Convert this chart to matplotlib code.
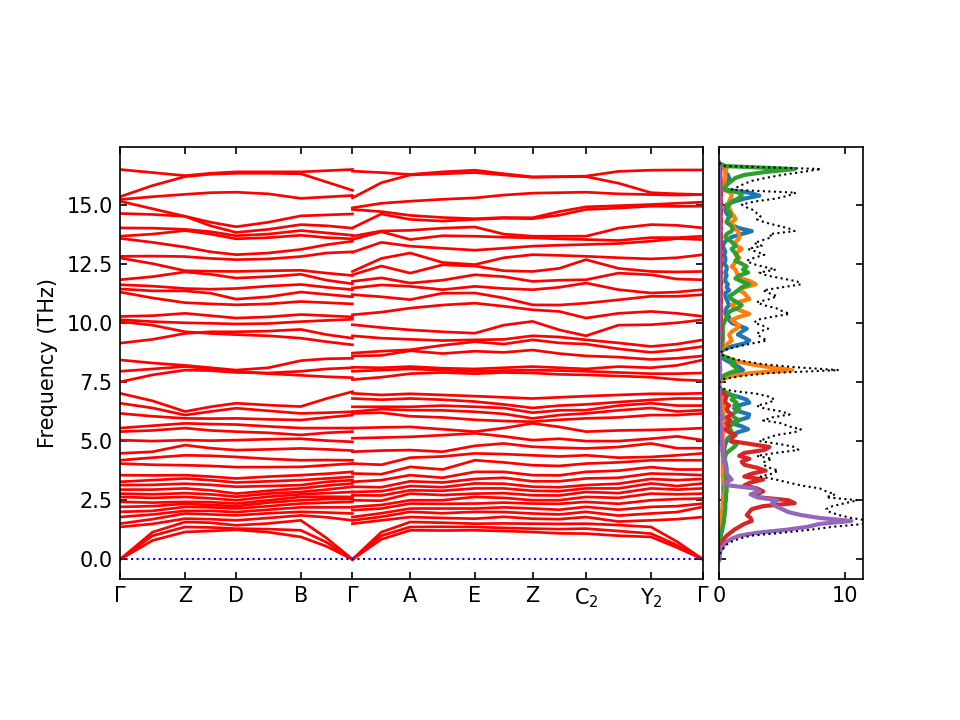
import numpy as np
import matplotlib
matplotlib.use("Agg")
import matplotlib.pyplot as plt

# === HIGH-SYMMETRY PATH ===
hs_labels = ["Γ", "Z", "D", "B", "Γ", "A", "E", "Z", "C$_2$", "Y$_2$", "Γ"]
hs_pos = [0.0, 0.650, 1.160, 1.807, 2.323, 2.900, 3.547, 4.123, 4.657, 5.307, 5.827]

# === BANDS, segment Γ-Z-D-B-Γ (values at each point and half-way point) ===
# upper branches, one row per band
path1_upper = [
    [16.48, 16.35, 16.22, 16.32, 16.38, 16.38, 16.38, 16.43, 16.48],
    [15.33, 15.80, 16.18, 16.28, 16.32, 16.32, 16.30, 15.95, 15.60],
    [15.21, 15.33, 15.43, 15.50, 15.52, 15.45, 15.26, 15.32, 15.38],
    [15.14, 14.82, 14.50, 14.25, 14.06, 14.25, 14.52, 14.56, 14.60],
    [14.62, 14.58, 14.50, 14.10, 13.82, 13.95, 14.15, 14.10, 14.00],
    [14.01, 14.00, 13.95, 13.85, 13.68, 13.75, 13.90, 13.80, 13.70],
    [13.66, 13.75, 13.90, 13.75, 13.55, 13.60, 13.70, 13.60, 13.55],
    [13.57, 13.40, 13.20, 13.00, 12.88, 12.95, 13.10, 13.30, 13.45],
    [12.81, 12.82, 12.80, 12.72, 12.67, 12.70, 12.80, 12.95, 13.00],
    [12.74, 12.50, 12.20, 12.18, 12.17, 12.20, 12.22, 12.10, 12.00],
    [11.82, 11.95, 12.15, 12.05, 11.89, 11.95, 12.05, 11.80, 11.65],
    [11.61, 11.55, 11.45, 11.42, 11.45, 11.55, 11.62, 11.50, 11.40],
    [11.43, 11.35, 11.35, 11.25, 11.00, 11.10, 11.30, 11.20, 11.10],
    [11.30, 11.05, 10.85, 10.80, 10.76, 10.80, 10.90, 10.85, 10.80],
    [10.27, 10.30, 10.40, 10.30, 10.20, 10.25, 10.35, 10.30, 10.25],
    [10.13, 10.05, 10.00, 9.98, 9.95, 9.97, 10.05, 10.10, 10.15],
    [9.14, 9.30, 9.55, 9.62, 9.62, 9.65, 9.72, 9.50, 9.35],
    [10.05, 9.90, 9.62, 9.55, 9.50, 9.45, 9.35, 9.20, 9.07],
    [8.43, 8.30, 8.20, 8.10, 8.00, 8.10, 8.40, 8.48, 8.50],
    [7.95, 8.05, 8.15, 8.05, 7.95, 7.85, 7.78, 7.72, 7.68],
    [7.50, 7.80, 8.00, 7.98, 7.90, 7.88, 7.95, 8.05, 8.10],
]
# lower optical branches, one list per k-point
path1_lower = [
    [1.37, 1.51, 1.79, 2.01, 2.22, 2.43, 2.64, 2.78, 2.95, 3.14, 3.28, 3.56, 4.05, 4.19, 4.48, 5.04, 5.40, 5.55, 6.17, 6.60, 7.02],
    [1.50, 1.70, 1.90, 2.05, 2.25, 2.40, 2.60, 2.75, 2.95, 3.15, 3.35, 3.55, 4.00, 4.30, 4.55, 5.00, 5.45, 5.65, 6.05, 6.40, 6.70],
    [1.72, 1.94, 2.05, 2.22, 2.35, 2.43, 2.64, 2.80, 3.00, 3.20, 3.42, 3.56, 3.98, 4.40, 4.83, 5.04, 5.55, 5.75, 5.96, 6.10, 6.25],
    [1.70, 1.90, 2.05, 2.20, 2.30, 2.42, 2.58, 2.75, 2.92, 3.15, 3.35, 3.50, 3.95, 4.38, 4.70, 5.02, 5.45, 5.72, 5.95, 6.25, 6.45],
    [1.65, 1.86, 2.00, 2.15, 2.25, 2.36, 2.50, 2.65, 2.78, 3.07, 3.25, 3.42, 3.90, 4.33, 4.62, 5.04, 5.40, 5.70, 5.96, 6.39, 6.60],
    [1.75, 1.95, 2.10, 2.25, 2.40, 2.50, 2.65, 2.78, 2.90, 3.10, 3.30, 3.50, 3.90, 4.25, 4.65, 5.08, 5.35, 5.62, 5.92, 6.28, 6.52],
    [1.86, 2.01, 2.20, 2.36, 2.50, 2.64, 2.75, 2.85, 3.00, 3.14, 3.35, 3.56, 3.91, 4.19, 4.69, 5.10, 5.26, 5.55, 5.89, 6.17, 6.46],
    [1.78, 1.98, 2.20, 2.40, 2.55, 2.65, 2.80, 2.95, 3.12, 3.28, 3.42, 3.62, 3.98, 4.20, 4.65, 5.02, 5.35, 5.55, 6.00, 6.20, 6.80],
    [1.65, 1.94, 2.20, 2.43, 2.55, 2.64, 2.85, 3.07, 3.21, 3.35, 3.49, 3.70, 4.05, 4.19, 4.60, 4.97, 5.40, 5.55, 6.10, 6.24, 7.09],
]
path1_acoustic = [
    [0.0, 0.80, 1.16, 1.20, 1.25, 1.15, 0.95, 0.55, 0.0],
    [0.0, 1.00, 1.37, 1.35, 1.30, 1.28, 1.23, 0.72, 0.0],
    [0.0, 1.15, 1.58, 1.55, 1.44, 1.52, 1.65, 0.90, 0.0],
]

# === BANDS, segment Γ-A-E-Z-C2-Y2-Γ ===
path2_upper = [
    [16.41, 15.28, 14.86, 14.79, 14.01, 13.66, 13.52, 12.98, 12.17, 12.03, 11.75, 11.47, 11.19, 10.34, 9.92, 9.45, 8.72, 8.60, 8.12, 7.95, 7.60],
    [16.35, 15.92, 15.05, 14.70, 14.60, 13.88, 13.85, 13.40, 12.72, 12.40, 11.90, 11.60, 11.10, 10.45, 9.80, 9.35, 8.80, 8.62, 8.10, 8.00, 7.70],
    [16.27, 16.25, 15.14, 14.54, 14.37, 13.91, 13.52, 13.24, 12.95, 12.10, 11.68, 11.54, 10.98, 10.62, 9.70, 9.30, 8.86, 8.82, 8.15, 8.05, 7.85],
    [16.38, 16.30, 15.22, 14.45, 14.30, 14.00, 13.68, 13.15, 12.55, 12.45, 11.80, 11.40, 11.25, 10.75, 9.62, 9.25, 9.05, 8.70, 8.08, 8.00, 7.90],
    [16.45, 16.35, 15.28, 14.40, 14.37, 14.05, 13.66, 13.07, 12.46, 12.40, 12.03, 11.54, 11.26, 10.83, 9.56, 9.28, 9.20, 8.80, 8.05, 7.95, 7.85],
    [16.30, 16.25, 15.40, 14.45, 14.42, 13.75, 13.62, 13.15, 12.75, 12.20, 11.95, 11.45, 11.05, 10.70, 9.90, 9.30, 9.10, 8.75, 8.10, 7.98, 7.90],
    [16.17, 16.15, 15.48, 14.44, 14.40, 13.66, 13.59, 13.24, 12.88, 12.17, 11.75, 11.40, 10.76, 10.55, 10.06, 9.45, 9.28, 8.85, 8.15, 8.00, 7.88],
    [16.18, 16.17, 15.50, 14.70, 14.55, 13.66, 13.55, 13.28, 12.85, 12.30, 11.80, 11.50, 10.75, 10.48, 9.70, 9.40, 9.15, 8.70, 8.10, 7.98, 7.82],
    [16.20, 16.18, 15.52, 14.90, 14.79, 13.66, 13.52, 13.31, 12.81, 12.67, 11.82, 11.68, 10.83, 10.20, 9.45, 9.28, 9.10, 8.60, 8.05, 7.95, 7.80],
    [16.40, 15.90, 15.45, 14.95, 14.85, 14.00, 13.48, 13.35, 12.75, 12.30, 12.10, 11.40, 10.97, 10.40, 9.90, 9.15, 8.90, 8.55, 8.15, 7.90, 7.75],
    [16.45, 15.50, 15.42, 15.00, 14.93, 14.15, 13.60, 13.45, 12.70, 12.17, 12.03, 11.26, 11.12, 10.48, 9.92, 9.00, 8.75, 8.45, 8.10, 7.85, 7.70],
    [16.46, 15.45, 15.40, 15.05, 14.92, 14.12, 13.56, 13.60, 12.75, 12.15, 11.85, 11.30, 11.12, 10.40, 10.00, 9.10, 8.85, 8.50, 8.20, 7.85, 7.60],
    [16.46, 15.42, 15.42, 15.10, 14.93, 14.01, 13.66, 13.52, 12.88, 12.17, 11.82, 11.40, 11.19, 10.27, 10.13, 9.28, 9.00, 8.60, 8.43, 7.88, 7.55],
]
path2_lower = [
    [1.51, 1.65, 1.79, 2.08, 2.22, 2.50, 2.71, 2.85, 3.07, 3.28, 3.63, 4.05, 4.55, 5.12, 5.55, 6.17, 6.24, 6.45, 6.80, 7.02],
    [1.65, 1.80, 1.95, 2.15, 2.30, 2.48, 2.70, 2.88, 3.05, 3.35, 3.60, 4.00, 4.60, 5.15, 5.58, 6.20, 6.35, 6.45, 6.75, 6.95],
    [1.79, 2.01, 2.15, 2.36, 2.50, 2.78, 2.92, 3.10, 3.30, 3.56, 3.91, 4.30, 4.62, 5.18, 5.60, 6.05, 6.31, 6.45, 6.80, 7.00],
    [1.75, 1.95, 2.15, 2.35, 2.50, 2.72, 2.90, 3.05, 3.25, 3.45, 3.80, 4.35, 4.55, 5.25, 5.50, 6.00, 6.30, 6.50, 6.75, 6.95],
    [1.72, 2.01, 2.15, 2.36, 2.64, 2.78, 3.00, 3.21, 3.40, 3.70, 4.19, 4.48, 4.80, 5.33, 5.40, 5.90, 6.24, 6.45, 6.67, 6.90],
    [1.80, 2.00, 2.20, 2.40, 2.60, 2.80, 3.00, 3.20, 3.45, 3.70, 4.10, 4.45, 4.90, 5.20, 5.55, 5.85, 6.15, 6.40, 6.55, 6.85],
    [1.72, 1.94, 2.15, 2.36, 2.50, 2.71, 2.90, 3.07, 3.30, 3.56, 3.98, 4.40, 4.76, 5.04, 5.75, 5.82, 5.96, 6.20, 6.40, 6.80],
    [1.70, 1.90, 2.10, 2.35, 2.50, 2.70, 2.88, 3.05, 3.30, 3.55, 3.95, 4.35, 4.72, 5.10, 5.60, 5.90, 6.10, 6.30, 6.50, 6.85],
    [1.79, 2.01, 2.22, 2.43, 2.64, 2.85, 3.00, 3.14, 3.42, 3.70, 4.05, 4.40, 4.69, 5.00, 5.40, 5.96, 6.17, 6.31, 6.55, 6.90],
    [1.60, 1.85, 2.10, 2.35, 2.60, 2.80, 3.00, 3.20, 3.45, 3.75, 4.10, 4.30, 4.75, 5.00, 5.45, 6.00, 6.30, 6.50, 6.65, 6.95],
    [1.65, 1.94, 2.22, 2.50, 2.78, 3.00, 3.21, 3.40, 3.63, 3.90, 4.19, 4.33, 4.90, 5.10, 5.47, 6.10, 6.40, 6.60, 6.74, 7.00],
    [1.70, 2.00, 2.25, 2.55, 2.75, 2.95, 3.10, 3.35, 3.60, 3.80, 4.19, 4.40, 4.70, 5.20, 5.50, 6.10, 6.25, 6.50, 6.80, 7.00],
    [1.79, 2.22, 2.36, 2.57, 2.78, 3.00, 3.21, 3.40, 3.56, 3.80, 4.19, 4.48, 4.70, 5.04, 5.55, 6.17, 6.31, 6.50, 6.80, 7.02],
]
path2_acoustic = [
    [0.0, 0.85, 1.23, 1.22, 1.23, 1.20, 1.16, 1.10, 1.09, 1.00, 0.95, 0.50, 0.0],
    [0.0, 1.00, 1.37, 1.38, 1.37, 1.33, 1.30, 1.28, 1.30, 1.20, 1.09, 0.60, 0.0],
    [0.0, 1.15, 1.58, 1.55, 1.51, 1.52, 1.51, 1.50, 1.51, 1.45, 1.37, 0.75, 0.0],
]

# === DOS (states/THz), sampled every 0.125 THz from 0, one row per THz ===
dos_total = [
    0.00, 0.03, 0.10, 0.20, 0.40, 0.60, 1.00, 1.60,
    2.50, 5.00, 7.20, 9.00, 11.50, 12.00, 10.50, 9.50,
    8.80, 8.50, 9.00, 10.00, 11.00, 8.50, 9.20, 8.50,
    8.00, 6.50, 5.50, 4.50, 3.30, 4.20, 4.70, 4.00,
    3.50, 3.60, 4.20, 3.00, 4.50, 6.30, 6.00, 4.80,
    3.20, 3.80, 4.50, 6.00, 6.50, 5.50, 5.00, 3.50,
    4.20, 5.60, 5.00, 3.60, 3.00, 4.00, 4.40, 4.00,
    3.00, 1.00, 0.05, 0.00, 0.05, 0.40, 1.80, 4.00,
    9.50, 6.00, 3.50, 2.00, 1.00, 0.30, 0.10, 0.60,
    1.50, 2.60, 3.80, 3.40, 3.00, 3.20, 3.90, 3.50,
    2.80, 3.00, 4.20, 5.60, 5.00, 4.50, 3.50, 3.00,
    4.00, 4.60, 4.00, 3.50, 5.00, 6.50, 6.20, 5.00,
    3.80, 3.20, 4.50, 3.50, 2.60, 2.20, 2.80, 3.60,
    3.00, 2.30, 3.40, 2.80, 3.50, 4.20, 4.00, 6.00,
    5.50, 4.50, 3.60, 3.00, 3.30, 3.00, 2.80, 2.20,
    1.80, 2.80, 4.50, 5.50, 6.10, 1.00, 1.50, 2.00,
    2.60, 3.70, 5.00, 6.60, 8.10, 0.50, 0.00,
]
dos_blue = [
    0.00, 0.00, 0.01, 0.01, 0.02, 0.03, 0.05, 0.07,
    0.10, 0.12, 0.15, 0.18, 0.20, 0.22, 0.22, 0.25,
    0.25, 0.28, 0.30, 0.30, 0.32, 0.32, 0.35, 0.35,
    0.35, 0.35, 0.35, 0.35, 0.35, 0.35, 0.35, 0.35,
    0.35, 0.35, 0.35, 0.35, 0.40, 0.40, 0.45, 0.50,
    0.60, 0.70, 1.00, 1.50, 2.30, 1.80, 1.00, 1.50,
    2.30, 2.40, 1.60, 1.20, 1.50, 2.40, 2.20, 1.50,
    0.50, 0.30, 0.02, 0.00, 0.01, 0.10, 0.40, 1.00,
    1.90, 1.60, 1.20, 0.70, 0.30, 0.10, 0.05, 0.40,
    1.00, 2.00, 2.40, 2.00, 1.50, 1.80, 2.20, 1.60,
    1.00, 0.80, 0.80, 0.50, 0.50, 0.60, 0.80, 0.70,
    0.60, 0.50, 0.50, 0.80, 0.60, 0.70, 0.50, 0.50,
    0.60, 0.50, 0.60, 0.60, 0.40, 0.50, 0.50, 0.40,
    0.50, 0.40, 0.30, 0.40, 0.60, 1.00, 1.80, 2.60,
    1.60, 1.00, 0.60, 0.70, 0.80, 0.60, 0.50, 0.50,
    0.60, 1.20, 2.00, 3.20, 2.40, 0.50, 0.50, 0.60,
    0.70, 0.80, 0.70, 0.50, 0.50, 0.05, 0.00,
]
dos_orange = [
    0.00, 0.00, 0.01, 0.01, 0.02, 0.03, 0.04, 0.05,
    0.06, 0.08, 0.10, 0.12, 0.15, 0.18, 0.20, 0.22,
    0.25, 0.28, 0.30, 0.30, 0.32, 0.35, 0.40, 0.45,
    0.50, 0.45, 0.40, 0.35, 0.30, 0.30, 0.30, 0.30,
    0.30, 0.30, 0.30, 0.30, 0.30, 0.30, 0.30, 0.30,
    0.30, 0.30, 0.30, 0.35, 0.35, 0.35, 0.40, 0.50,
    0.40, 0.35, 0.35, 0.35, 0.35, 0.30, 0.30, 0.25,
    0.20, 0.10, 0.02, 0.00, 0.02, 0.30, 1.00, 2.50,
    5.80, 4.00, 2.50, 1.40, 0.80, 0.20, 0.05, 0.10,
    0.40, 0.70, 1.00, 0.90, 0.80, 1.00, 1.40, 1.60,
    1.30, 1.00, 1.60, 2.40, 1.80, 1.20, 1.00, 1.50,
    2.40, 2.20, 2.00, 1.60, 2.00, 2.90, 2.50, 1.80,
    1.50, 1.40, 1.30, 1.00, 1.20, 1.40, 1.60, 1.30,
    1.50, 1.80, 1.40, 1.20, 1.50, 1.60, 1.60, 1.50,
    1.20, 1.10, 1.00, 1.30, 1.20, 1.00, 0.90, 0.80,
    0.70, 0.80, 0.90, 1.00, 0.90, 0.40, 0.40, 0.40,
    0.45, 0.50, 0.50, 0.50, 0.60, 0.05, 0.00,
]
dos_green = [
    0.00, 0.00, 0.01, 0.02, 0.03, 0.05, 0.08, 0.10,
    0.15, 0.20, 0.25, 0.30, 0.35, 0.40, 0.40, 0.45,
    0.45, 0.50, 0.50, 0.50, 0.55, 0.55, 0.55, 0.60,
    0.60, 0.60, 0.60, 0.60, 0.55, 0.55, 0.60, 0.60,
    0.55, 0.50, 0.45, 0.50, 0.60, 0.90, 1.20, 1.40,
    0.90, 0.80, 1.00, 1.00, 0.90, 0.80, 1.20, 1.60,
    1.20, 1.00, 1.40, 1.60, 1.20, 1.40, 1.00, 1.30,
    0.80, 0.30, 0.02, 0.00, 0.01, 0.10, 0.30, 0.80,
    1.50, 1.30, 1.00, 1.20, 0.70, 0.20, 0.05, 0.10,
    0.20, 0.25, 0.30, 0.30, 0.30, 0.30, 0.30, 0.30,
    0.40, 0.50, 0.60, 0.70, 0.90, 1.50, 1.80, 1.40,
    1.00, 0.80, 1.20, 1.50, 1.80, 2.40, 1.80, 1.30,
    1.60, 2.30, 1.90, 2.20, 1.80, 1.30, 1.50, 1.40,
    1.20, 1.00, 1.30, 1.10, 0.80, 0.50, 0.60, 1.00,
    1.10, 0.90, 0.60, 0.70, 0.90, 0.90, 0.70, 0.60,
    0.80, 1.00, 1.50, 1.80, 1.60, 0.40, 0.50, 0.70,
    1.00, 1.30, 2.00, 3.70, 6.00, 0.50, 0.00,
]
dos_red = [
    0.00, 0.01, 0.03, 0.05, 0.10, 0.20, 0.30, 0.40,
    0.60, 0.90, 1.20, 1.60, 2.00, 2.60, 2.50, 2.20,
    2.40, 2.60, 3.50, 6.00, 5.50, 3.20, 3.00, 3.50,
    3.00, 2.00, 2.50, 3.50, 2.00, 2.60, 3.70, 3.00,
    2.00, 1.80, 2.40, 1.60, 2.00, 3.60, 4.00, 2.50,
    1.00, 1.00, 1.30, 0.80, 0.50, 0.80, 0.60, 0.90,
    0.60, 1.00, 0.70, 0.60, 0.80, 0.50, 0.50, 0.60,
    0.40, 0.15, 0.01, 0.00, 0.00, 0.01, 0.02, 0.03,
    0.05, 0.05, 0.04, 0.03, 0.02, 0.01, 0.00, 0.01,
    0.05, 0.08, 0.12, 0.12, 0.10, 0.12, 0.15, 0.12,
    0.12, 0.15, 0.15, 0.12, 0.15, 0.15, 0.12, 0.15,
    0.15, 0.12, 0.15, 0.15, 0.12, 0.15, 0.15, 0.12,
    0.15, 0.15, 0.12, 0.15, 0.15, 0.12, 0.15, 0.15,
    0.12, 0.15, 0.15, 0.12, 0.15, 0.15, 0.15, 0.12,
    0.15, 0.12, 0.15, 0.15, 0.12, 0.15, 0.15, 0.12,
    0.15, 0.15, 0.12, 0.15, 0.15, 0.10, 0.10, 0.12,
    0.12, 0.12, 0.10, 0.10, 0.10, 0.02, 0.00,
]
dos_purple = [
    0.00, 0.02, 0.05, 0.12, 0.25, 0.40, 0.60, 1.00,
    1.60, 3.00, 5.30, 7.00, 8.00, 10.50, 8.00, 6.50,
    5.50, 5.00, 4.50, 4.20, 4.60, 3.00, 2.50, 3.20,
    2.80, 0.80, 0.50, 1.00, 0.80, 0.60, 0.60, 0.50,
    0.45, 0.40, 0.40, 0.30, 0.30, 0.25, 0.25, 0.20,
    0.20, 0.20, 0.15, 0.15, 0.15, 0.15, 0.12, 0.12,
    0.30, 0.12, 0.10, 0.10, 0.10, 0.08, 0.06, 0.05,
    0.04, 0.02, 0.01, 0.00, 0.00, 0.01, 0.02, 0.05,
    0.10, 0.08, 0.06, 0.05, 0.03, 0.01, 0.00, 0.00,
    0.02, 0.03, 0.03, 0.03, 0.03, 0.03, 0.03, 0.03,
    0.03, 0.03, 0.03, 0.03, 0.03, 0.03, 0.03, 0.03,
    0.03, 0.03, 0.03, 0.03, 0.03, 0.03, 0.03, 0.03,
    0.03, 0.03, 0.03, 0.03, 0.03, 0.03, 0.03, 0.03,
    0.03, 0.03, 0.03, 0.03, 0.03, 0.03, 0.03, 0.03,
    0.03, 0.03, 0.03, 0.03, 0.03, 0.03, 0.03, 0.03,
    0.03, 0.03, 0.03, 0.03, 0.03, 0.03, 0.03, 0.03,
    0.03, 0.03, 0.03, 0.03, 0.03, 0.01, 0.00,
]
dos_freq = np.arange(len(dos_total)) * 0.125


def with_midpoints(points):
    out = []
    for a, b in zip(points[:-1], points[1:]):
        out += [a, (a + b) / 2]
    out.append(points[-1])
    return np.array(out)


q1 = with_midpoints(hs_pos[:5])
q2 = with_midpoints(hs_pos[4:])

bands1 = list(path1_acoustic) + list(np.sort(np.array(path1_lower), axis=1).T) + path1_upper
bands2 = (list(path2_acoustic) + list(np.sort(np.array(path2_lower), axis=1).T)
          + list(np.sort(np.array(path2_upper), axis=1).T))

# === FIGURE ===
fig = plt.figure(figsize=(6.4, 4.8), dpi=150)
ax = fig.add_axes([0.125, 0.1958, 0.6073, 0.6])
ax2 = fig.add_axes([0.749, 0.1958, 0.150, 0.6], sharey=ax)

for b in bands1:
    ax.plot(q1, b, color="r", lw=1.3)
for b in bands2:
    ax.plot(q2, b, color="r", lw=1.3)
ax.plot([hs_pos[0], hs_pos[-1]], [0, 0], "b:", lw=1)

ax.set_xlim(hs_pos[0], hs_pos[-1])
ax.set_ylim(-0.83, 17.43)
ax.set_xticks(hs_pos)
ax.set_xticklabels(hs_labels)
ax.set_ylabel("Frequency (THz)")
ax.xaxis.set_ticks_position("both")
ax.yaxis.set_ticks_position("both")
ax.tick_params(which="both", direction="in")

# === DOS PANEL ===
ax2.plot(dos_blue, dos_freq, color="C0", lw=2)
ax2.plot(dos_orange, dos_freq, color="C1", lw=2)
ax2.plot(dos_green, dos_freq, color="C2", lw=2)
ax2.plot(dos_red, dos_freq, color="C3", lw=2)
ax2.plot(dos_purple, dos_freq, color="C4", lw=2)
ax2.plot(dos_total, dos_freq, "k:", lw=1)
ax2.set_xlim(0, 11.43)
ax2.set_xticks([0, 10])
ax2.xaxis.set_ticks_position("both")
ax2.yaxis.set_ticks_position("both")
ax2.tick_params(which="both", direction="in")
ax2.tick_params(axis="y", labelleft=False)

fig.savefig("out.png", dpi=150)
